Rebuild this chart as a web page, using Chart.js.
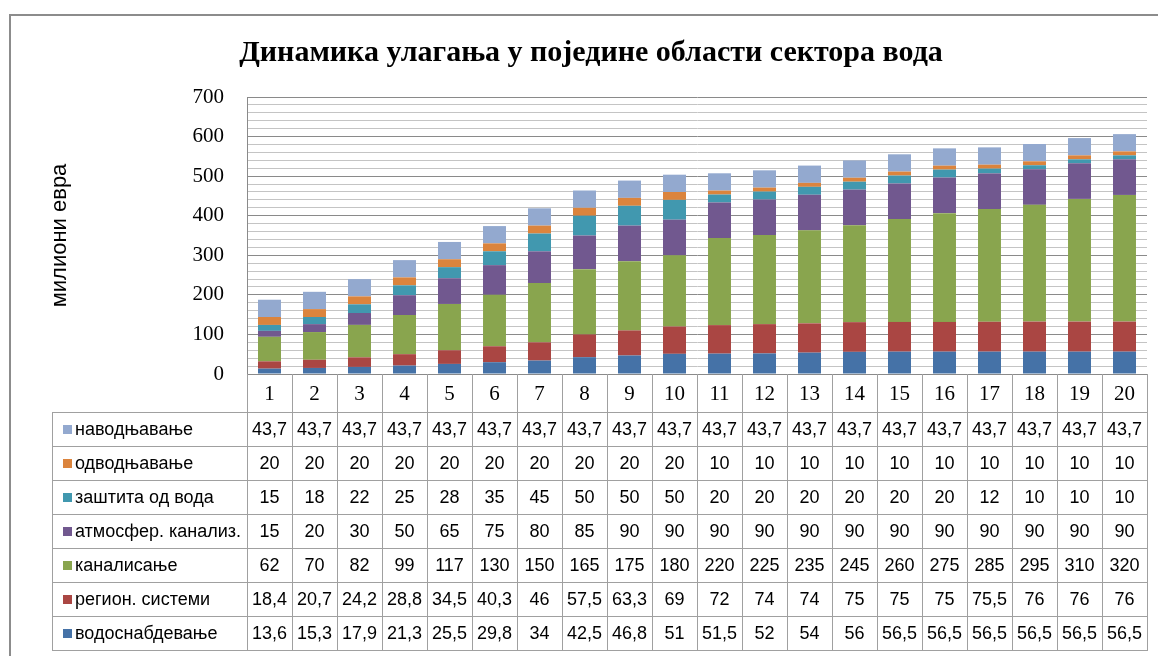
<!DOCTYPE html>
<html>
<head>
<meta charset="utf-8">
<title>Динамика улагања у поједине области сектора вода</title>
<script src="https://cdn.jsdelivr.net/npm/chart.js@4"></script>
<style>
  html, body { margin: 0; padding: 0; background: #ffffff; }
  #wrap { position: relative; width: 1158px; height: 656px; }
</style>
</head>
<body>
<div id="wrap"><canvas id="chart"></canvas></div>
<script>
// Years of the investment plan
const categories = ['1','2','3','4','5','6','7','8','9','10','11','12','13','14','15','16','17','18','19','20'];

// Investment per field, million euro (bottom of the stack first)
const vodosnabdevanje = [13.6,15.3,17.9,21.3,25.5,29.8,34,42.5,46.8,51,51.5,52,54,56,56.5,56.5,56.5,56.5,56.5,56.5];
const regionSistemi   = [18.4,20.7,24.2,28.8,34.5,40.3,46,57.5,63.3,69,72,74,74,75,75,75,75.5,76,76,76];
const kanalisanje     = [62,70,82,99,117,130,150,165,175,180,220,225,235,245,260,275,285,295,310,320];
const atmosferKanal   = [15,20,30,50,65,75,80,85,90,90,90,90,90,90,90,90,90,90,90,90];
const zastitaOdVoda   = [15,18,22,25,28,35,45,50,50,50,20,20,20,20,20,20,12,10,10,10];
const odvodnjavanje   = [20,20,20,20,20,20,20,20,20,20,10,10,10,10,10,10,10,10,10,10];
const navodnjavanje   = [43.7,43.7,43.7,43.7,43.7,43.7,43.7,43.7,43.7,43.7,43.7,43.7,43.7,43.7,43.7,43.7,43.7,43.7,43.7,43.7];

// Labelled value-axis ticks
const yTickLabels = [0,100,200,300,400,500,600,700];

const series = [
  { label: 'водоснабдевање',     data: vodosnabdevanje, color: '#4572A7' },
  { label: 'регион. системи',    data: regionSistemi,   color: '#AA4643' },
  { label: 'каналисање',         data: kanalisanje,     color: '#89A54E' },
  { label: 'атмосфер. канализ.', data: atmosferKanal,   color: '#71588F' },
  { label: 'заштита од вода',    data: zastitaOdVoda,   color: '#4198AF' },
  { label: 'одводњавање',        data: odvodnjavanje,   color: '#DB843D' },
  { label: 'наводњавање',        data: navodnjavanje,   color: '#93A9CF' }
];

const GRID_DARK = '#8a8a8a';
const GRID_LIGHT = '#c4c4c4';
const TABLE_LINE = '#a0a0a0';

function fmt(v) { return String(v).replace('.', ','); }

// Outer frame, data table under the category axis, legend keys in the first column
const dataTablePlugin = {
  id: 'dataTable',
  beforeDraw(chart) {
    const ctx = chart.ctx;
    ctx.save();
    ctx.fillStyle = '#ffffff';
    ctx.fillRect(0, 0, chart.width, chart.height);
    ctx.strokeStyle = '#8c8c8c';
    ctx.lineWidth = 2;
    ctx.beginPath();
    ctx.moveTo(10, chart.height);
    ctx.lineTo(10, 15);
    ctx.lineTo(chart.width, 15);
    ctx.stroke();
    ctx.restore();
  },
  afterDraw(chart) {
    const ctx = chart.ctx;
    const area = chart.chartArea;
    const xs = chart.scales.x;
    const n = categories.length;
    const colW = (area.right - area.left) / n;
    const tableTop = xs.bottom;
    const tableLeft = 52;
    const rows = series.slice().reverse();
    const rowH = (chart.height - 6 - tableTop) / rows.length;
    const tableBottom = tableTop + rowH * rows.length;

    ctx.save();
    ctx.strokeStyle = TABLE_LINE;
    ctx.lineWidth = 1;
    ctx.beginPath();
    // column separators, from the axis down through the table
    for (let i = 0; i <= n; i++) {
      const x = Math.round(area.left + i * colW) + 0.5;
      ctx.moveTo(x, area.bottom);
      ctx.lineTo(x, tableBottom);
    }
    ctx.moveTo(tableLeft + 0.5, tableTop);
    ctx.lineTo(tableLeft + 0.5, tableBottom);
    for (let r = 0; r <= rows.length; r++) {
      const y = Math.round(tableTop + r * rowH) + 0.5;
      ctx.moveTo(tableLeft, y);
      ctx.lineTo(area.right + 1, y);
    }
    ctx.stroke();

    ctx.textBaseline = 'middle';
    rows.forEach((s, r) => {
      const cy = tableTop + r * rowH + rowH / 2;
      // legend key
      ctx.fillStyle = s.color;
      ctx.fillRect(tableLeft + 11, Math.round(cy - 4), 9, 9);
      ctx.fillStyle = '#000000';
      ctx.font = '18px "Liberation Sans", Arial, sans-serif';
      ctx.textAlign = 'left';
      ctx.fillText(s.label, tableLeft + 23, cy + 1);
      // values
      ctx.textAlign = 'center';
      s.data.forEach((v, i) => {
        const cx = xs.getPixelForValue(i);
        ctx.fillText(fmt(v), cx, cy + 1);
      });
    });
    ctx.restore();
  }
};

new Chart(document.getElementById('chart'), {
  type: 'bar',
  data: {
    labels: categories,
    datasets: series.map(s => ({
      label: s.label,
      data: s.data,
      backgroundColor: s.color,
      borderWidth: 0,
      categoryPercentage: 1,
      barPercentage: 0.51
    }))
  },
  options: {
    responsive: true,
    maintainAspectRatio: false,
    animation: false,
    events: [],
    layout: { padding: { left: 35, right: 11, top: 0, bottom: 244 } },
    plugins: {
      legend: { display: false },
      tooltip: { enabled: false },
      title: {
        display: true,
        text: 'Динамика улагања у поједине области сектора вода',
        color: '#000000',
        font: { family: '"Liberation Serif", "Times New Roman", serif', size: 30, weight: 'bold', lineHeight: 1.2 },
        padding: { top: 35, bottom: 26 }
      }
    },
    scales: {
      x: {
        stacked: true,
        grid: { display: false, drawTicks: false },
        border: { display: false },
        ticks: {
          color: '#000000',
          padding: 8,
          font: { family: '"Liberation Serif", "Times New Roman", serif', size: 21 }
        },
        afterFit(scale) { scale.height = 38; }
      },
      y: {
        stacked: true,
        min: 0,
        max: 700,
        grid: {
          drawTicks: false,
          color: ctx => (yTickLabels.includes(ctx.tick.value) ? GRID_DARK : GRID_LIGHT),
          lineWidth: 1
        },
        border: { display: true, color: GRID_DARK, width: 1 },
        ticks: {
          stepSize: 20,
          autoSkip: false,
          padding: 23,
          color: '#000000',
          font: { family: '"Liberation Serif", "Times New Roman", serif', size: 21 },
          callback: v => (yTickLabels.includes(v) ? String(v) : '')
        },
        title: {
          display: true,
          text: 'милиони евра',
          color: '#000000',
          font: { family: '"Liberation Sans", Arial, sans-serif', size: 22, lineHeight: 1.2 },
          padding: { top: 12, bottom: 0 }
        },
        afterFit(scale) { scale.width = 212; }
      }
    }
  },
  plugins: [dataTablePlugin]
});
</script>
</body>
</html>
